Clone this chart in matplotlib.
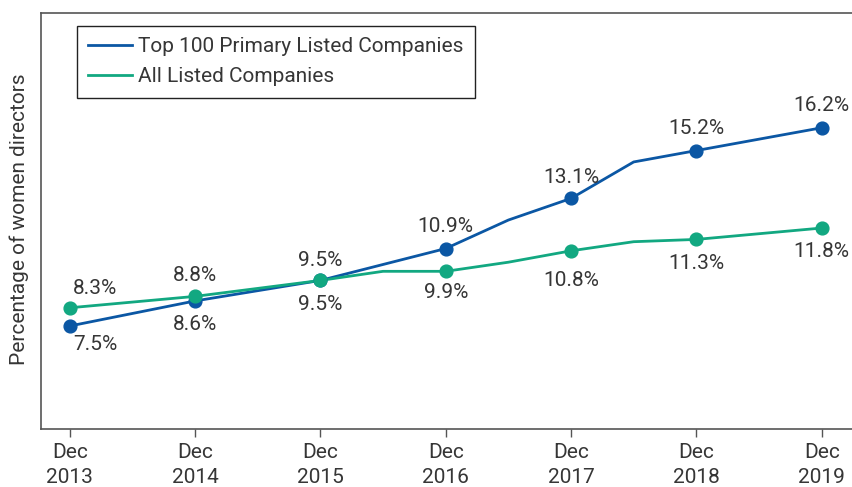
import matplotlib
matplotlib.use("Agg")
from matplotlib import pyplot as plt

# data (half-year vertices only where the line bends)
years = [2013, 2014, 2015, 2016, 2017, 2018, 2019]
tick_labels = [f"Dec\n{y}" for y in years]

top100_x = [2013, 2014, 2015, 2016, 2016.5, 2017, 2017.5, 2018, 2019]
top100_y = [7.5, 8.6, 9.5, 10.9, 12.15, 13.1, 14.7, 15.2, 16.2]
top100_dec = [7.5, 8.6, 9.5, 10.9, 13.1, 15.2, 16.2]

all_x = [2013, 2014, 2015, 2015.5, 2016, 2016.5, 2017, 2017.5, 2018, 2019]
all_y = [8.3, 8.8, 9.5, 9.9, 9.9, 10.3, 10.8, 11.2, 11.3, 11.8]
all_dec = [8.3, 8.8, 9.5, 9.9, 10.8, 11.3, 11.8]

blue = "#0b57a4"
green = "#12a881"
txt = "#363636"
fs = 15

plt.rcParams['font.family'] = ['Roboto', 'DejaVu Sans']

fig = plt.figure(figsize=(8.52, 4.87), dpi=100)
ax = fig.add_axes([41/852, 1-429/487, 1-41/852, (429-12.7)/487])

ax.plot(top100_x, top100_y, color=blue, lw=2, label="Top 100 Primary Listed Companies")
ax.plot(all_x, all_y, color=green, lw=2, label="All Listed Companies")
ax.plot(years, top100_dec, 'o', color=blue, ms=9.2)
ax.plot(years, all_dec, 'o', color=green, ms=9.2)

# label offsets in pixels (dx, dy)
blue_off = [(26, -18), (0, -24), (0, 20), (0, 22), (0, 21), (0, 22), (0, 22)]
green_off = [(25, 19), (0, 21), (0, -24), (0, -21), (0, -30), (0, -24), (0, -23)]
for x, v, o in zip(years, top100_dec, blue_off):
    ax.annotate(f"{v:.1f}%", (x, v), xytext=o, textcoords='offset pixels',
                ha='center', va='center', fontsize=fs, color=txt)
for x, v, o in zip(years, all_dec, green_off):
    ax.annotate(f"{v:.1f}%", (x, v), xytext=o, textcoords='offset pixels',
                ha='center', va='center', fontsize=fs, color=txt)

ax.set_xlim(2013 - 28.7/125.3, 2019 + 30.3/125.3)
ax.set_ylim(2.98, 21.25)
ax.set_xticks(years)
ax.set_xticklabels(tick_labels, fontsize=fs, color=txt, linespacing=1.4)
ax.set_yticks([])
ax.tick_params(axis='x', length=6, width=1, color="#555555", pad=4)
ax.spines['right'].set_visible(False)
for s in ['left', 'top', 'bottom']:
    ax.spines[s].set_color("#555555")
    ax.spines[s].set_linewidth(1.2)

ax.set_ylabel("Percentage of women directors", fontsize=fs, color=txt)
ax.yaxis.set_label_coords(-12/811, 0.504)

leg = ax.legend(loc='upper left', bbox_to_anchor=(36/811, 1-13.3/416.3), fontsize=fs,
                frameon=True, fancybox=False, edgecolor="#222222", framealpha=1,
                borderaxespad=0, handlelength=2.1, handletextpad=0.3,
                labelspacing=0.52, borderpad=0.55)
leg.get_frame().set_linewidth(1.0)
for t in leg.get_texts():
    t.set_color(txt)

fig.savefig("out.png", dpi=100)
